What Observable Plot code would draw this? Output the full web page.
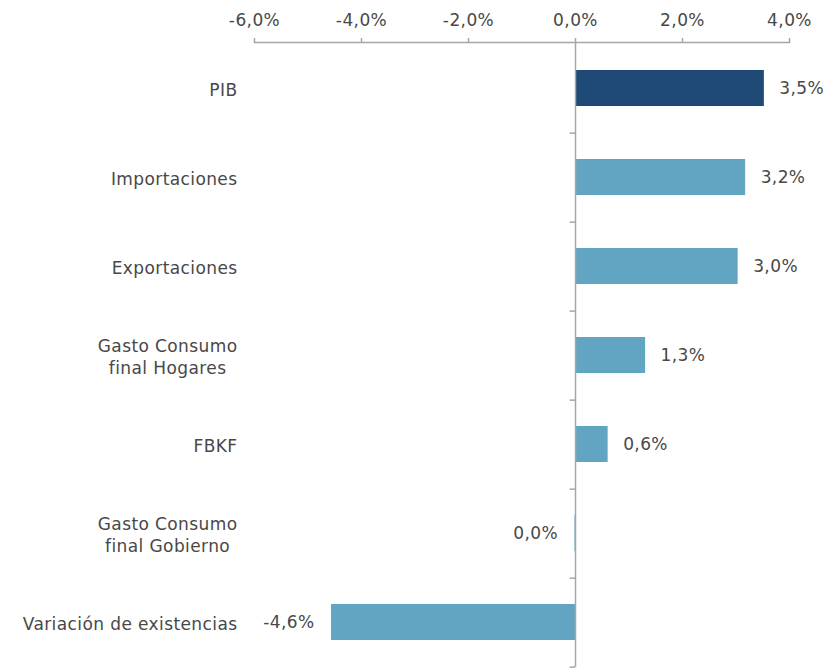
<!DOCTYPE html>
<html>
<head>
<meta charset="utf-8">
<script src="https://cdn.jsdelivr.net/npm/d3@7"></script>
<script src="https://cdn.jsdelivr.net/npm/@observablehq/plot@0.6"></script>
<style>
  html, body { margin: 0; padding: 0; background: #fff; }
</style>
</head>
<body>
<div id="chart"></div>
<script>
const categories = [
  "PIB",
  "Importaciones",
  "Exportaciones",
  "Gasto Consumo\nfinal Hogares",
  "FBKF",
  "Gasto Consumo\nfinal Gobierno",
  "Variación de existencias"
];
const values = [3.53, 3.18, 3.04, 1.31, 0.61, -0.01, -4.56];
const xTicks = [-6, -4, -2, 0, 2, 4];

const data = categories.map((c, i) => ({cat: c, value: values[i]}));

const DARK = "#1f4a78";
const LIGHT = "#62a5c2";
const GRID = "#a6a6a6";
const TEXT = "#484848";
const FONT = "'DejaVu Sans', sans-serif";
const FS = 17;

const W = 825, H = 669;
const mTop = 42, mBottom = 2, mLeft = 254, mRight = 36;
const step = (H - mTop - mBottom) / categories.length;

const pct = v => {
  const r = Math.round(v * 10) / 10;
  return (r === 0 ? 0 : r).toFixed(1).replace(".", ",") + "%";
};

const chart = Plot.plot({
  width: W,
  height: H,
  marginTop: mTop,
  marginBottom: mBottom,
  marginLeft: mLeft,
  marginRight: mRight,
  style: {fontFamily: FONT, fontSize: FS + "px", color: TEXT, background: "#fff", letterSpacing: "0.4px"},
  x: {domain: [-6, 4], axis: null},
  y: {domain: categories, paddingInner: 0.6, paddingOuter: 0.3, axis: null},
  marks: [
    Plot.barX(data, {x: "value", y: "cat", fill: d => d.cat === "PIB" ? DARK : LIGHT}),
    Plot.ruleX([0], {stroke: GRID, strokeWidth: 1.5}),
    Plot.ruleY(categories, {y: d => d, x1: -0.1, x2: 0, dy: step / 2, stroke: GRID, strokeWidth: 1.5}),
    Plot.frame({anchor: "top", stroke: GRID, strokeWidth: 1.5}),
    Plot.axisX({anchor: "top", label: null, ticks: xTicks, tickSize: 5, tickPadding: 12, tickFormat: pct, stroke: GRID, strokeWidth: 1.5, fill: TEXT, fontSize: FS}),
    Plot.text(data.filter(d => d.value >= 0), {x: "value", y: "cat", text: d => pct(d.value), textAnchor: "start", dx: 15, fill: TEXT, fontSize: FS}),
    Plot.text(data.filter(d => d.value < 0), {x: "value", y: "cat", text: d => pct(d.value), textAnchor: "end", dx: -17, fill: TEXT, fontSize: FS}),
    Plot.text(data, {y: "cat", text: "cat", frameAnchor: "left", textAnchor: "end", dx: -17, lineHeight: 1.3, fill: TEXT, fontSize: FS})
  ]
});

document.getElementById("chart").appendChild(chart);

// center multi-line category labels on their longest line (right edge kept)
chart.querySelectorAll("text").forEach(t => {
  const spans = t.querySelectorAll("tspan");
  if (spans.length > 1) {
    let maxW = 0;
    spans.forEach(s => { maxW = Math.max(maxW, s.getComputedTextLength()); });
    t.setAttribute("text-anchor", "middle");
    spans.forEach(s => s.setAttribute("x", -maxW / 2));
  }
});
</script>
</body>
</html>
